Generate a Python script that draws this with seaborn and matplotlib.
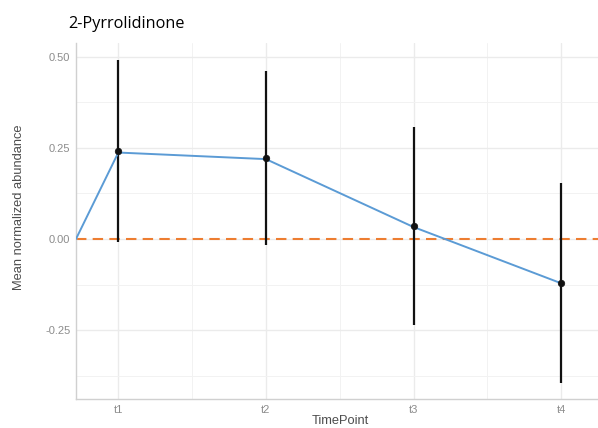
import matplotlib
matplotlib.use("Agg")
import matplotlib.pyplot as plt
import seaborn as sns
import numpy as np
import pandas as pd
from matplotlib.ticker import MultipleLocator

# ---- data ----
categories = ["t1", "t2", "t3", "t4"]
cat_pos = [1, 2, 3, 4]
point_means = [0.241, 0.222, 0.036, -0.121]
err_half = [0.250, 0.237, 0.272, 0.274]
line_x = [0.713, 1, 2, 3, 4]
line_y = [0.0, 0.237, 0.219, 0.033, -0.121]
title = "2-Pyrrolidinone"

sns.set_theme(style="whitegrid")
plt.rcParams['font.family'] = ['Liberation Sans', 'DejaVu Sans']

fig = plt.figure(figsize=(5.98, 4.28), dpi=100)
ax = fig.add_axes([0.127, 0.0678, 0.873, 0.8317])

df_line = pd.DataFrame({"x": line_x, "y": line_y})
df_pts = pd.DataFrame({"x": cat_pos, "y": point_means, "e": err_half})

ax.axhline(0, color="#ED7D31", lw=1.5, ls=(0, (5, 3)), zorder=2)
ax.errorbar(df_pts["x"], df_pts["y"], yerr=df_pts["e"], fmt="none",
            ecolor="#111111", elinewidth=1.6, capsize=0, zorder=3)
sns.lineplot(data=df_line, x="x", y="y", color="#5B9BD5", lw=1.4, ax=ax,
             zorder=4, sort=False)
sns.scatterplot(data=df_pts, x="x", y="y", color="#111111", s=22,
                edgecolor="#111111", linewidth=0.5, ax=ax, zorder=5)

ax.set_xlim(0.713, 4.25)
ax.set_ylim(-0.438, 0.537)
ax.set_xticks(cat_pos)
ax.set_xticklabels(categories)
ax.yaxis.set_major_locator(MultipleLocator(0.25))
ax.yaxis.set_minor_locator(MultipleLocator(0.125))
ax.set_yticklabels([f"{v:.2f}" for v in ax.get_yticks()])
ax.set_xticks([1.5, 2.5, 3.5], minor=True)

ax.grid(True, which="major", color="#EBEBEB", lw=1.0)
ax.grid(True, which="minor", color="#F2F2F2", lw=0.7)
ax.tick_params(axis="both", which="both", length=0, labelsize=8,
               labelcolor="#8C8C8C")
ax.tick_params(axis="y", pad=4)
ax.tick_params(axis="x", pad=4)

for s in ["top", "right"]:
    ax.spines[s].set_visible(False)
for s in ["left", "bottom"]:
    ax.spines[s].set_visible(True)
    ax.spines[s].set_color("#D0D0D0")
    ax.spines[s].set_linewidth(1.0)

ax.set_xlabel("TimePoint", fontsize=9.3, color="#4D4D4D")
ax.set_ylabel("Mean normalized abundance", fontsize=9.3, color="#4D4D4D")
# label positions in axes fraction
ax.xaxis.set_label_coords((340 - 76) / (598 - 76), (399 - 415) / 356)
ax.yaxis.set_label_coords((19 - 76) / (598 - 76), (399 - 207) / 356)
ax.yaxis.label.set_va("center")
ax.xaxis.label.set_va("top")

fig.text(68 / 598, 1 - 24 / 428, title, fontsize=11.7, color="black",
         ha="left", va="center", family=["Open Sans", "DejaVu Sans"])

fig.savefig("out.png", dpi=100)
